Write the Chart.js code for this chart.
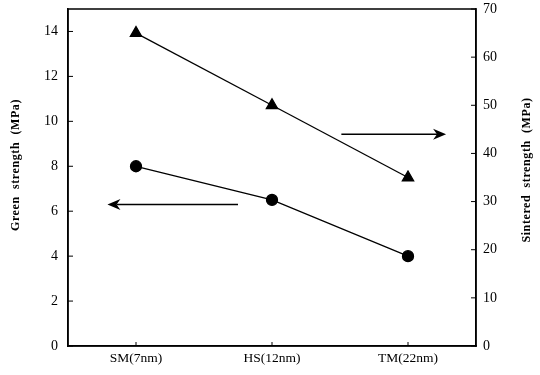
<!DOCTYPE html>
<html>
<head>
<meta charset="utf-8">
<script src="https://cdn.jsdelivr.net/npm/chart.js@4/dist/chart.umd.min.js"></script>
<style>
  html, body { margin: 0; padding: 0; background: #fff; }
  #wrap { width: 540px; height: 375px; }
</style>
</head>
<body>
<div id="wrap"><canvas id="chart" width="540" height="375"></canvas></div>
<script>
/* Green / sintered strength vs powder type */
const categories = ['SM(7nm)', 'HS(12nm)', 'TM(22nm)'];
const greenStrength = [8, 6.5, 4];        // MPa, left axis (circles)
const sinteredStrength = [65, 50, 35];    // MPa, right axis (triangles)
const leftTicks = [0, 2, 4, 6, 8, 10, 12, 14];
const rightTicks = [0, 10, 20, 30, 40, 50, 60, 70];

// arrows pointing at the axis each series belongs to (x in category index units)
const ARROWS = [
    { axis: 'y',  value: 6.3, from: 0.75, to: -0.21 },
    { axis: 'y2', value: 44,  from: 1.51, to: 2.28 },
];

const SERIF = '"Liberation Serif", "DejaVu Serif", serif';

function arrow(ctx, x1, y, x2) {
    const dir = Math.sign(x2 - x1);
    const len = 13, half = 5.5;
    ctx.beginPath();
    ctx.moveTo(x1, y);
    ctx.lineTo(x2 - dir * len * 0.7, y);
    ctx.lineWidth = 1.5;
    ctx.stroke();
    ctx.beginPath();
    ctx.moveTo(x2, y);
    ctx.lineTo(x2 - dir * len, y - half);
    ctx.lineTo(x2 - dir * len * 0.7, y);
    ctx.lineTo(x2 - dir * len, y + half);
    ctx.closePath();
    ctx.fill();
}

function vText(ctx, text, x, y) {
    ctx.save();
    ctx.translate(x, y);
    ctx.rotate(-Math.PI / 2);
    ctx.textAlign = 'center';
    ctx.textBaseline = 'middle';
    ctx.fillText(text, 0, 0);
    ctx.restore();
}

const framePlugin = {
    id: 'frame',
    afterDraw(chart) {
        const { ctx, chartArea: a, scales } = chart;
        ctx.save();
        ctx.strokeStyle = '#000';
        ctx.fillStyle = '#000';
        ctx.lineWidth = 1.5;
        ctx.strokeRect(a.left, a.top, a.right - a.left, a.bottom - a.top);

        // inward tick marks
        ctx.lineWidth = 1;
        ctx.beginPath();
        scales.y.ticks.forEach(t => {
            const py = scales.y.getPixelForValue(t.value);
            ctx.moveTo(a.left, py); ctx.lineTo(a.left + 5, py);
        });
        scales.y2.ticks.forEach(t => {
            const py = scales.y2.getPixelForValue(t.value);
            ctx.moveTo(a.right, py); ctx.lineTo(a.right - 5, py);
        });
        categories.forEach((c, i) => {
            const px = scales.x.getPixelForValue(i);
            ctx.moveTo(px, a.bottom); ctx.lineTo(px, a.bottom - 4);
        });
        ctx.stroke();

        ARROWS.forEach(ar => {
            const py = scales[ar.axis].getPixelForValue(ar.value);
            const w = scales.x.getPixelForValue(1) - scales.x.getPixelForValue(0);
            const x0 = scales.x.getPixelForValue(0);
            arrow(ctx, x0 + ar.from * w, py, x0 + ar.to * w);
        });

        // axis titles, both reading bottom to top
        ctx.font = 'bold 12px ' + SERIF;
        ctx.letterSpacing = '0.6px';
        vText(ctx, 'Green  strength  (MPa)', 16, 165);
        vText(ctx, 'Sintered  strength  (MPa)', 527, 170);
        ctx.restore();
    }
};

// y axes: fixed width, and no extra room reserved above the top label
function fitY(width) {
    return s => { s.width = width; s.paddingTop = 0; s.paddingBottom = 0; };
}

new Chart(document.getElementById('chart').getContext('2d'), {
    type: 'line',
    data: {
        labels: categories,
        datasets: [
            {
                label: 'Green strength',
                data: greenStrength,
                yAxisID: 'y',
                borderColor: '#000',
                backgroundColor: '#000',
                borderWidth: 1.3,
                pointStyle: 'circle',
                pointRadius: 5.5,
                tension: 0,
            },
            {
                label: 'Sintered strength',
                data: sinteredStrength,
                yAxisID: 'y2',
                borderColor: '#000',
                backgroundColor: '#000',
                borderWidth: 1.3,
                pointStyle: 'triangle',
                pointRadius: 6.5,
                tension: 0,
            },
        ]
    },
    options: {
        responsive: false,
        animation: false,
        layout: { padding: { top: 9, left: 0, right: 0, bottom: 0 } },
        plugins: { legend: { display: false }, tooltip: { enabled: false } },
        scales: {
            x: {
                type: 'category',
                offset: true,
                grid: { display: false, drawTicks: false },
                border: { display: true, color: '#000', width: 1.5 },
                ticks: { color: '#000', padding: 4, font: { family: SERIF, size: 13.5 } },
                afterFit: s => { s.height = 29; s.paddingLeft = 0; s.paddingRight = 0; },
            },
            y: {
                position: 'left',
                min: 0, max: 15,
                grid: { display: false, drawTicks: false },
                border: { display: true, color: '#000', width: 1.5 },
                ticks: { color: '#000', padding: 10, font: { family: SERIF, size: 14 } },
                afterBuildTicks: s => { s.ticks = leftTicks.map(v => ({ value: v })); },
                afterFit: fitY(68),
            },
            y2: {
                position: 'right',
                min: 0, max: 70,
                grid: { display: false, drawTicks: false },
                border: { display: true, color: '#000', width: 1.5 },
                ticks: { color: '#000', padding: 7, font: { family: SERIF, size: 14 } },
                afterBuildTicks: s => { s.ticks = rightTicks.map(v => ({ value: v })); },
                afterFit: fitY(64),
            },
        }
    },
    plugins: [framePlugin]
});
</script>
</body>
</html>
